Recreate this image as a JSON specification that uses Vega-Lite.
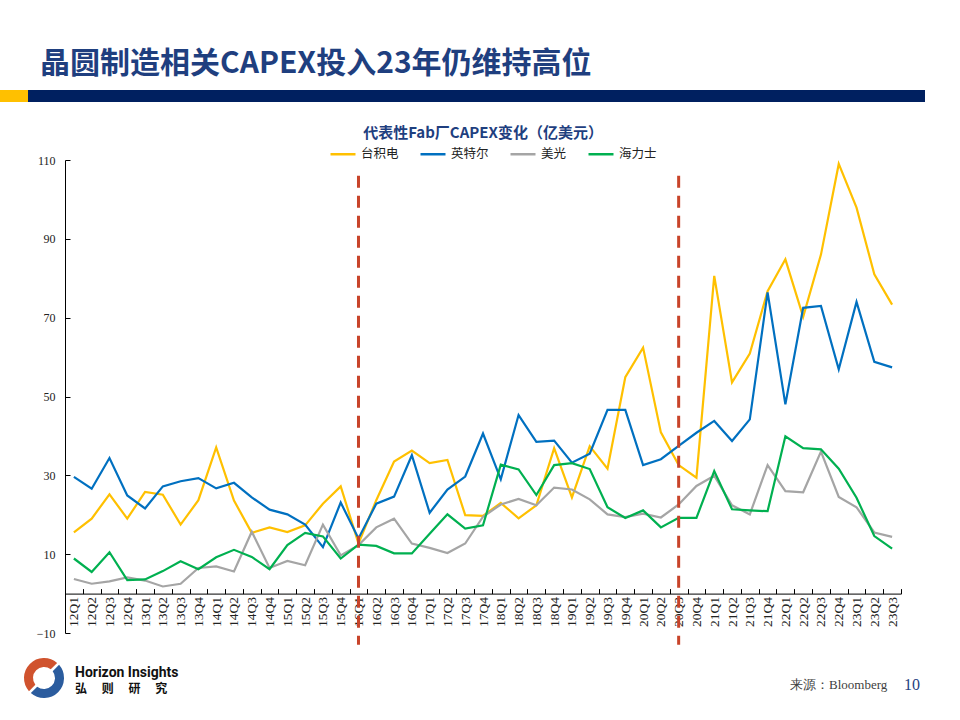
{
  "$schema": "https://vega.github.io/schema/vega-lite/v6.json",
  "background": "white",
  "padding": {"left": 0, "top": 49, "right": 0, "bottom": 0},
  "title": {"text": "晶圆制造相关CAPEX投入23年仍维持高位", "anchor": "start", "dx": 40, "fontSize": 30, "font": "Noto Sans CJK SC", "fontWeight": "bold", "color": "#1F3F7F", "offset": 11},
  "config": {"view": {"stroke": null}},
  "resolve": {"scale": {"color": "independent", "fill": "independent"}, "legend": {"color": "independent", "fill": "independent"}},
  "spacing": 24,
  "vconcat": [
    {
      "spacing": 0,
      "hconcat": [
        {"width": 28, "height": 12, "view": {"fill": "#FFC000", "stroke": null}, "data": {"values": [{}]}, "mark": {"type": "text"}, "encoding": {}},
        {"width": 897, "height": 12, "view": {"fill": "#002060", "stroke": null}, "data": {"values": [{}]}, "mark": {"type": "text"}, "encoding": {}}
      ]
    },
    {
      "spacing": 3,
      "resolve": {"scale": {"color": "independent", "fill": "independent"}, "legend": {"color": "independent", "fill": "independent"}},
      "vconcat": [
        {
          "spacing": 0,
          "resolve": {"scale": {"color": "independent"}, "legend": {"color": "independent"}},
          "hconcat": [
            {"width": 36, "height": 1, "data": {"values": [{}]}, "mark": {"type": "text"}, "encoding": {}},
            {
              "width": 836,
              "height": 473,
              "title": {"text": "代表性Fab厂CAPEX变化（亿美元）", "fontSize": 15, "font": "Noto Sans CJK SC", "fontWeight": "bold", "color": "#1F3F7F", "anchor": "middle", "offset": -1},
              "layer": [
                {
                  "data": {"values": [
                    {"q": "12Q1", "台积电": 15.5, "英特尔": 29.6, "美光": 3.7, "海力士": 8.9},
                    {"q": "12Q2", "台积电": 19.0, "英特尔": 26.6, "美光": 2.5, "海力士": 5.5},
                    {"q": "12Q3", "台积电": 25.2, "英特尔": 34.4, "美光": 3.1, "海力士": 10.5},
                    {"q": "12Q4", "台积电": 19.0, "英特尔": 24.9, "美光": 4.1, "海力士": 3.4},
                    {"q": "13Q1", "台积电": 25.8, "英特尔": 21.6, "美光": 3.3, "海力士": 3.6},
                    {"q": "13Q2", "台积电": 25.1, "英特尔": 27.2, "美光": 1.8, "海力士": 5.7},
                    {"q": "13Q3", "台积电": 17.5, "英特尔": 28.5, "美光": 2.5, "海力士": 8.2},
                    {"q": "13Q4", "台积电": 23.7, "英特尔": 29.3, "美光": 6.5, "海力士": 6.2},
                    {"q": "14Q1", "台积电": 37.1, "英特尔": 26.7, "美光": 6.9, "海力士": 9.2},
                    {"q": "14Q2", "台积电": 23.6, "英特尔": 28.1, "美光": 5.6, "海力士": 11.1},
                    {"q": "14Q3", "台积电": 15.4, "英特尔": 24.4, "美光": 15.7, "海力士": 9.3},
                    {"q": "14Q4", "台积电": 16.8, "英特尔": 21.3, "美光": 6.5, "海力士": 6.2},
                    {"q": "15Q1", "台积电": 15.6, "英特尔": 20.1, "美光": 8.3, "海力士": 12.3},
                    {"q": "15Q2", "台积电": 17.3, "英特尔": 17.5, "美光": 7.2, "海力士": 15.4},
                    {"q": "15Q3", "台积电": 22.8, "英特尔": 11.8, "美光": 17.5, "海力士": 14.5},
                    {"q": "15Q4", "台积电": 27.2, "英特尔": 23.1, "美光": 9.7, "海力士": 8.9},
                    {"q": "16Q1", "台积电": 12.7, "英特尔": 14.0, "美光": 12.3, "海力士": 12.4},
                    {"q": "16Q2", "台积电": 23.7, "英特尔": 22.8, "美光": 16.8, "海力士": 12.1},
                    {"q": "16Q3", "台积电": 33.5, "英特尔": 24.6, "美光": 19.0, "海力士": 10.2},
                    {"q": "16Q4", "台积电": 36.3, "英特尔": 35.1, "美光": 12.7, "海力士": 10.2},
                    {"q": "17Q1", "台积电": 33.1, "英特尔": 20.5, "美光": 11.6, "海力士": 15.2},
                    {"q": "17Q2", "台积电": 33.9, "英特尔": 26.4, "美光": 10.3, "海力士": 20.1},
                    {"q": "17Q3", "台积电": 19.9, "英特尔": 29.7, "美光": 12.7, "海力士": 16.5},
                    {"q": "17Q4", "台积电": 19.7, "英特尔": 40.6, "美光": 19.5, "海力士": 17.3},
                    {"q": "18Q1", "台积电": 23.0, "英特尔": 29.0, "美光": 22.6, "海力士": 32.7},
                    {"q": "18Q2", "台积电": 19.1, "英特尔": 45.3, "美光": 24.0, "海力士": 31.5},
                    {"q": "18Q3", "台积电": 22.4, "英特尔": 38.5, "美光": 22.4, "海力士": 25.0},
                    {"q": "18Q4", "台积电": 36.9, "英特尔": 38.8, "美光": 26.9, "海力士": 32.6},
                    {"q": "19Q1", "台积电": 24.4, "英特尔": 33.2, "美光": 26.4, "海力士": 33.1},
                    {"q": "19Q2", "台积电": 37.4, "英特尔": 35.5, "美光": 23.9, "海力士": 31.6},
                    {"q": "19Q3", "台积电": 31.7, "英特尔": 46.6, "美光": 20.1, "海力士": 21.9},
                    {"q": "19Q4", "台积电": 54.9, "英特尔": 46.6, "美光": 19.4, "海力士": 19.2},
                    {"q": "20Q1", "台积电": 62.4, "英特尔": 32.6, "美光": 20.3, "海力士": 21.1},
                    {"q": "20Q2", "台积电": 40.9, "英特尔": 34.1, "美光": 19.3, "海力士": 16.8},
                    {"q": "20Q3", "台积电": 32.6, "英特尔": 37.5, "美光": 22.6, "海力士": 19.2},
                    {"q": "20Q4", "台积电": 29.4, "英特尔": 40.8, "美光": 27.3, "海力士": 19.2},
                    {"q": "21Q1", "台积电": 80.6, "英特尔": 43.8, "美光": 29.9, "海力士": 31.1},
                    {"q": "21Q2", "台积电": 53.6, "英特尔": 38.7, "美光": 22.4, "海力士": 21.4},
                    {"q": "21Q3", "台积电": 60.9, "英特尔": 44.2, "美光": 20.1, "海力士": 21.1},
                    {"q": "21Q4", "台积电": 76.7, "英特尔": 76.4, "美光": 32.6, "海力士": 20.9},
                    {"q": "22Q1", "台积电": 84.8, "英特尔": 48.0, "美光": 26.0, "海力士": 39.9},
                    {"q": "22Q2", "台积电": 70.2, "英特尔": 72.5, "美光": 25.7, "海力士": 36.9},
                    {"q": "22Q3", "台积电": 86.0, "英特尔": 73.0, "美光": 36.0, "海力士": 36.6},
                    {"q": "22Q4", "台积电": 109.0, "英特尔": 56.9, "美光": 24.5, "海力士": 31.7},
                    {"q": "23Q1", "台积电": 97.9, "英特尔": 74.0, "美光": 21.9, "海力士": 24.3},
                    {"q": "23Q2", "台积电": 81.0, "英特尔": 58.8, "美光": 15.5, "海力士": 14.6},
                    {"q": "23Q3", "台积电": 73.3, "英特尔": 57.4, "美光": 14.4, "海力士": 11.4}
                  ]},
                  "transform": [{"fold": ["台积电", "英特尔", "美光", "海力士"], "as": ["company", "v"]}],
                  "mark": {"type": "line", "strokeWidth": 2.2},
                  "encoding": {
                    "x": {
                      "field": "q", "type": "ordinal", "sort": null,
                      "scale": {"type": "band", "paddingInner": 0, "paddingOuter": 0},
                      "axis": {"orient": "bottom", "offset": -39.4, "title": null, "labelAngle": 270, "labelAlign": "right", "labelBaseline": "middle", "tickSize": -5, "tickBand": "extent", "domainColor": "#000000", "tickColor": "#000000", "domainWidth": 1, "labelFont": "Liberation Serif", "labelFontSize": 13.5, "labelColor": "#222222", "labelPadding": 8, "grid": false}
                    },
                    "y": {
                      "field": "v", "type": "quantitative",
                      "scale": {"domain": [-10, 110], "nice": false, "zero": false},
                      "axis": {"values": [-10, 10, 30, 50, 70, 90, 110], "title": null, "grid": false, "domainColor": "#000000", "tickColor": "#000000", "tickSize": -5, "labelFont": "Liberation Serif", "labelFontSize": 12, "labelColor": "#222222", "labelPadding": 15}
                    },
                    "color": {
                      "field": "company", "type": "nominal",
                      "scale": {"domain": ["台积电", "英特尔", "美光", "海力士"], "range": ["#FFC000", "#0070C0", "#A5A5A5", "#00B050"]},
                      "legend": {"orient": "none", "legendX": 264, "legendY": -20, "direction": "horizontal", "title": null, "symbolType": "stroke", "symbolStrokeWidth": 2.5, "symbolSize": 625, "labelFont": "Noto Sans CJK SC", "labelFontSize": 12.5, "labelColor": "#222222", "columnPadding": 16, "labelOffset": 4, "padding": 0}
                    }
                  }
                },
                {
                  "data": {"values": [{"q": "16Q1"}, {"q": "20Q3"}]},
                  "mark": {"type": "rule", "strokeDash": [12, 8], "strokeWidth": 3, "color": "#C8442A", "clip": false},
                  "encoding": {
                    "x": {"field": "q", "type": "ordinal", "sort": null},
                    "y": {"datum": 106},
                    "y2": {"datum": -13}
                  }
                }
              ]
            }
          ]
        },
        {
          "spacing": 0,
          "hconcat": [
            {"width": 24, "height": 1, "data": {"values": [{}]}, "mark": {"type": "text"}, "encoding": {}},
            {
              "width": 40, "height": 44,
              "data": {"values": [{"part": "a", "share": 1}, {"part": "b", "share": 1}]},
              "mark": {"type": "arc", "radius": 20, "radius2": 11, "padAngle": 0.12},
              "encoding": {
                "theta": {"field": "share", "type": "quantitative", "stack": true, "scale": {"range": [-2.36, 3.93]}},
                "order": {"field": "part"},
                "fill": {"field": "part", "type": "nominal", "scale": {"domain": ["a", "b"], "range": ["#D0532E", "#2B5C9E"]}, "legend": null}
              }
            },
            {"width": 11, "height": 1, "data": {"values": [{}]}, "mark": {"type": "text"}, "encoding": {}},
            {"width": 120, "height": 1, "data": {"values": [{}]}, "mark": {"type": "text"}, "encoding": {},
             "title": {"text": "Horizon Insights", "subtitle": "弘　 则　 研　 究", "orient": "bottom", "anchor": "start", "offset": 4, "fontSize": 14, "font": "Roboto", "fontWeight": "bold", "color": "#111111", "subtitleFont": "Noto Sans CJK SC", "subtitleFontSize": 12, "subtitleFontWeight": "bold", "subtitleColor": "#111111", "subtitlePadding": 4}},
            {"width": 595, "height": 1, "data": {"values": [{}]}, "mark": {"type": "text"}, "encoding": {}},
            {"width": 106, "height": 1, "data": {"values": [{}]}, "mark": {"type": "text"}, "encoding": {},
             "title": {"text": "来源：Bloomberg", "orient": "bottom", "anchor": "start", "offset": 17, "fontSize": 13, "font": "Liberation Serif", "fontWeight": "normal", "color": "#404040"}},
            {"width": 8, "height": 1, "data": {"values": [{}]}, "mark": {"type": "text"}, "encoding": {}},
            {"width": 22, "height": 1, "data": {"values": [{}]}, "mark": {"type": "text"}, "encoding": {},
             "title": {"text": "10", "orient": "bottom", "anchor": "start", "offset": 15, "fontSize": 16, "font": "Liberation Serif", "fontWeight": "normal", "color": "#1F3F7F"}}
          ]
        }
      ]
    }
  ]
}
